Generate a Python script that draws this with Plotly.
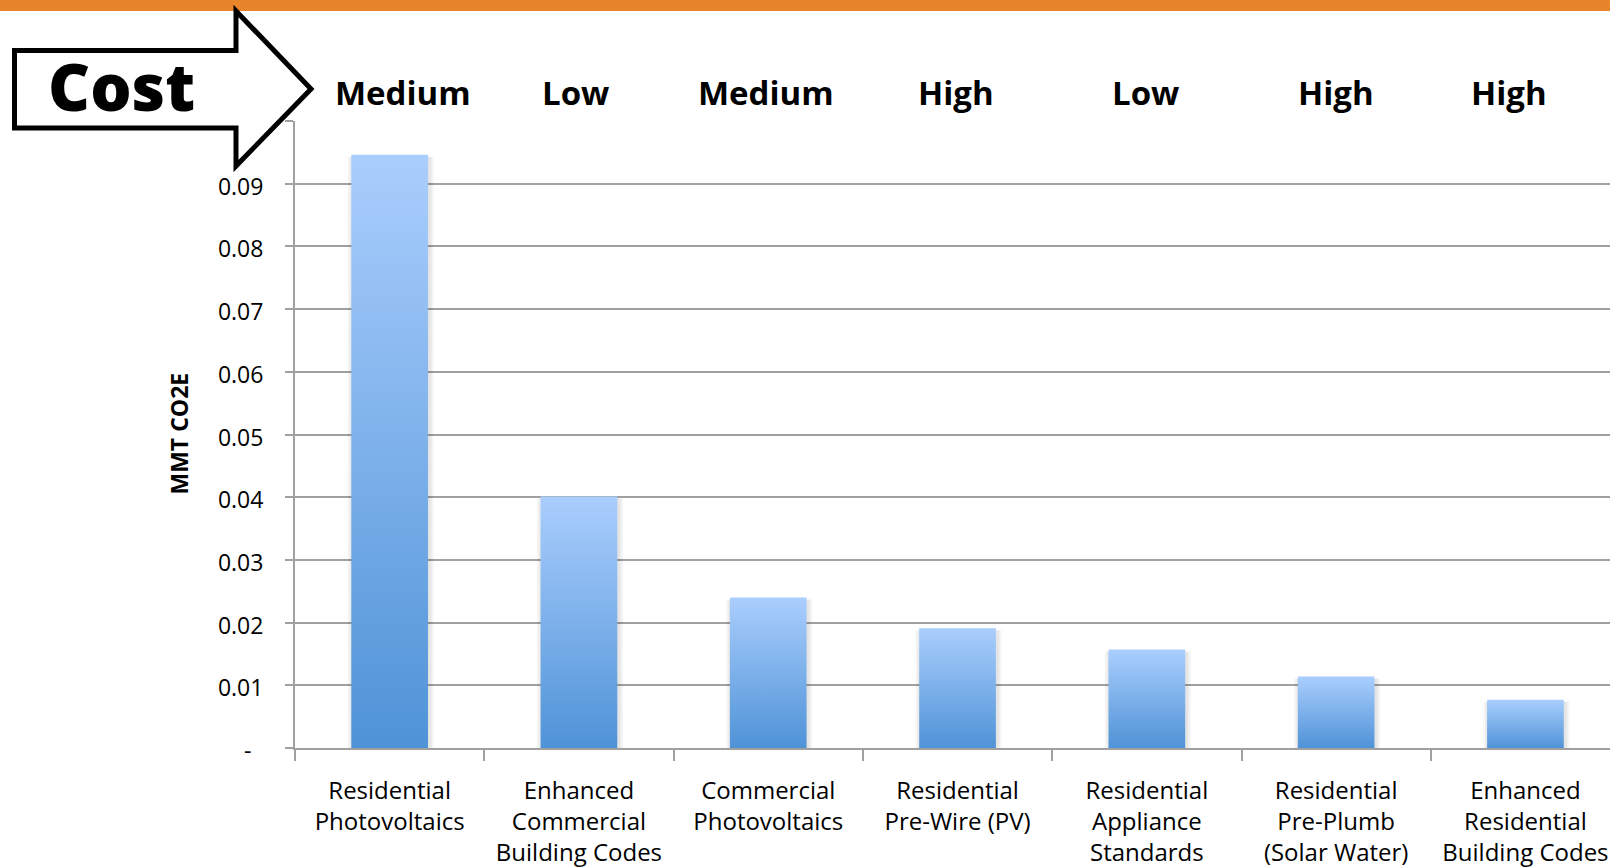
import plotly.graph_objects as go

# Emission reductions by measure, with the relative cost of each measure
categories = [
    "Residential<br>Photovoltaics",
    "Enhanced<br>Commercial<br>Building Codes",
    "Commercial<br>Photovoltaics",
    "Residential<br>Pre-Wire (PV)",
    "Residential<br>Appliance<br>Standards",
    "Residential<br>Pre-Plumb<br>(Solar Water)",
    "Enhanced<br>Residential<br>Building Codes",
]
mmt_co2e = [0.0946, 0.0401, 0.0240, 0.0191, 0.0157, 0.0114, 0.0077]
cost_levels = ["Medium", "Low", "Medium", "High", "Low", "High", "High"]

y_tick_values = [0, 0.01, 0.02, 0.03, 0.04, 0.05, 0.06, 0.07, 0.08, 0.09, 0.10]
y_tick_labels = ["-\u00a0\u00a0", "0.01", "0.02", "0.03", "0.04", "0.05",
                 "0.06", "0.07", "0.08", "0.09", ""]

# ---- page geometry (pixels) ----
W, H = 1610, 868
PLOT_L, PLOT_T, PLOT_B = 295, 121, 748
PLOT_W = W - PLOT_L
PLOT_H = PLOT_B - PLOT_T
CAT_PX = 189.3                      # width of one category slot
X_MAX = -0.5 + PLOT_W / CAT_PX
Y_MAX = 0.10

BAR_FRAC = 0.405
GRAY = "#A0A0A0"
FONT = "Open Sans"
cost_nudge = [13, -3, -2, -2, -1, 0, -16]   # label offsets in px


def paper(x_px, y_px):
    return (x_px - PLOT_L) / PLOT_W, (PLOT_B - y_px) / PLOT_H


px_x = 1.0 / CAT_PX          # one pixel in x data units
px_y = Y_MAX / PLOT_H        # one pixel in y data units

fig = go.Figure()

# soft shadow behind each bar
for i, v in enumerate(mmt_co2e):
    for k in (3, 2, 1):
        half = BAR_FRAC / 2 + k * 1.6 * px_x
        x0, x1 = i - half + 1 * px_x, i + half + 1 * px_x
        top = v - 2 * px_y
        fig.add_trace(go.Scatter(
            x=[x0, x0, x1, x1, x0], y=[0, top, top, 0, 0],
            mode="lines", fill="toself", line=dict(width=0),
            fillcolor="rgba(0,0,0,0.035)", hoverinfo="skip", showlegend=False,
        ))

# gradient-filled bars
for i, v in enumerate(mmt_co2e):
    x0, x1 = i - BAR_FRAC / 2, i + BAR_FRAC / 2
    fig.add_trace(go.Scatter(
        x=[x0, x0, x1, x1, x0], y=[0, v, v, 0, 0],
        mode="lines", fill="toself", line=dict(width=0),
        fillgradient=dict(type="vertical",
                          colorscale=[[0, "#4F93D7"], [1, "#AACEFD"]]),
        name=categories[i].replace("<br>", " "),
        hovertemplate="%{fullData.name}<br>" + f"{v:.4f} MMT CO2E<extra></extra>",
        showlegend=False,
    ))

# top orange band
bx0, by0 = paper(0, 0)
bx1, by1 = paper(W, 11)
shapes = [dict(type="rect", xref="paper", yref="paper",
               x0=bx0, x1=bx1, y0=by1, y1=by0,
               fillcolor="#E8842A", line=dict(width=0), layer="above")]

# "Cost" arrow outline
arrow_pts = [(14.5, 50.5), (236, 50.5), (236, 11), (311, 89),
             (236, 166), (236, 128), (14.5, 128)]
path = ""
for j, (ax_, ay_) in enumerate(arrow_pts):
    px_, py_ = paper(ax_, ay_)
    path += ("M" if j == 0 else "L") + f"{px_:.5f},{py_:.5f} "
path += "Z"
shapes.append(dict(type="path", xref="paper", yref="paper", path=path,
                   fillcolor="white", line=dict(color="black", width=5),
                   layer="above"))

annotations = []
cx, cy = paper(121, 86)
annotations.append(dict(
    text="Cost", x=cx, y=cy, xref="paper", yref="paper",
    xanchor="center", yanchor="middle", showarrow=False,
    font=dict(family=FONT, size=65, color="black", weight=800),
))

_, ly = paper(0, 92)
for i, lvl in enumerate(cost_levels):
    annotations.append(dict(
        text=lvl, x=i, y=ly, xref="x", yref="paper", xshift=cost_nudge[i],
        xanchor="center", yanchor="middle", showarrow=False,
        font=dict(family=FONT, size=33, color="black", weight="bold"),
    ))

tx, ty = paper(178.5, 434)
annotations.append(dict(
    text="MMT CO2E", x=tx, y=ty, xref="paper", yref="paper", textangle=-90,
    xanchor="center", yanchor="middle", showarrow=False,
    font=dict(family=FONT, size=23, color="black", weight="bold"),
))

fig.update_layout(
    width=W, height=H,
    margin=dict(l=PLOT_L, r=0, t=PLOT_T, b=H - PLOT_B, pad=0),
    paper_bgcolor="white", plot_bgcolor="white",
    font=dict(family=FONT, color="black"),
    shapes=shapes, annotations=annotations,
    xaxis=dict(
        range=[-0.5, X_MAX], showgrid=False, zeroline=False,
        tickmode="array", tickvals=list(range(len(categories))),
        ticktext=categories, ticks="",
        tickfont=dict(family=FONT, size=24, color="black"),
        ticklabelstandoff=20,
        showline=True, linecolor=GRAY, linewidth=2,
        minor=dict(tickmode="array",
                   tickvals=[k - 0.5 for k in range(len(categories) + 1)],
                   ticks="outside", ticklen=11, tickwidth=2, tickcolor=GRAY,
                   showgrid=False),
        fixedrange=True,
    ),
    yaxis=dict(
        range=[0, Y_MAX], tickmode="array", tickvals=y_tick_values,
        ticktext=y_tick_labels, ticks="outside", ticklen=8, tickwidth=2,
        tickcolor=GRAY, showgrid=True, gridcolor=GRAY, gridwidth=2,
        zeroline=True, zerolinecolor=GRAY, zerolinewidth=2,
        showline=True, linecolor=GRAY, linewidth=2,
        tickfont=dict(family=FONT, size=23, color="black"),
        ticklabelstandoff=17, ticklabelshift=3,
        fixedrange=True,
    ),
)

fig.write_html("out.html", config={"displayModeBar": False})
